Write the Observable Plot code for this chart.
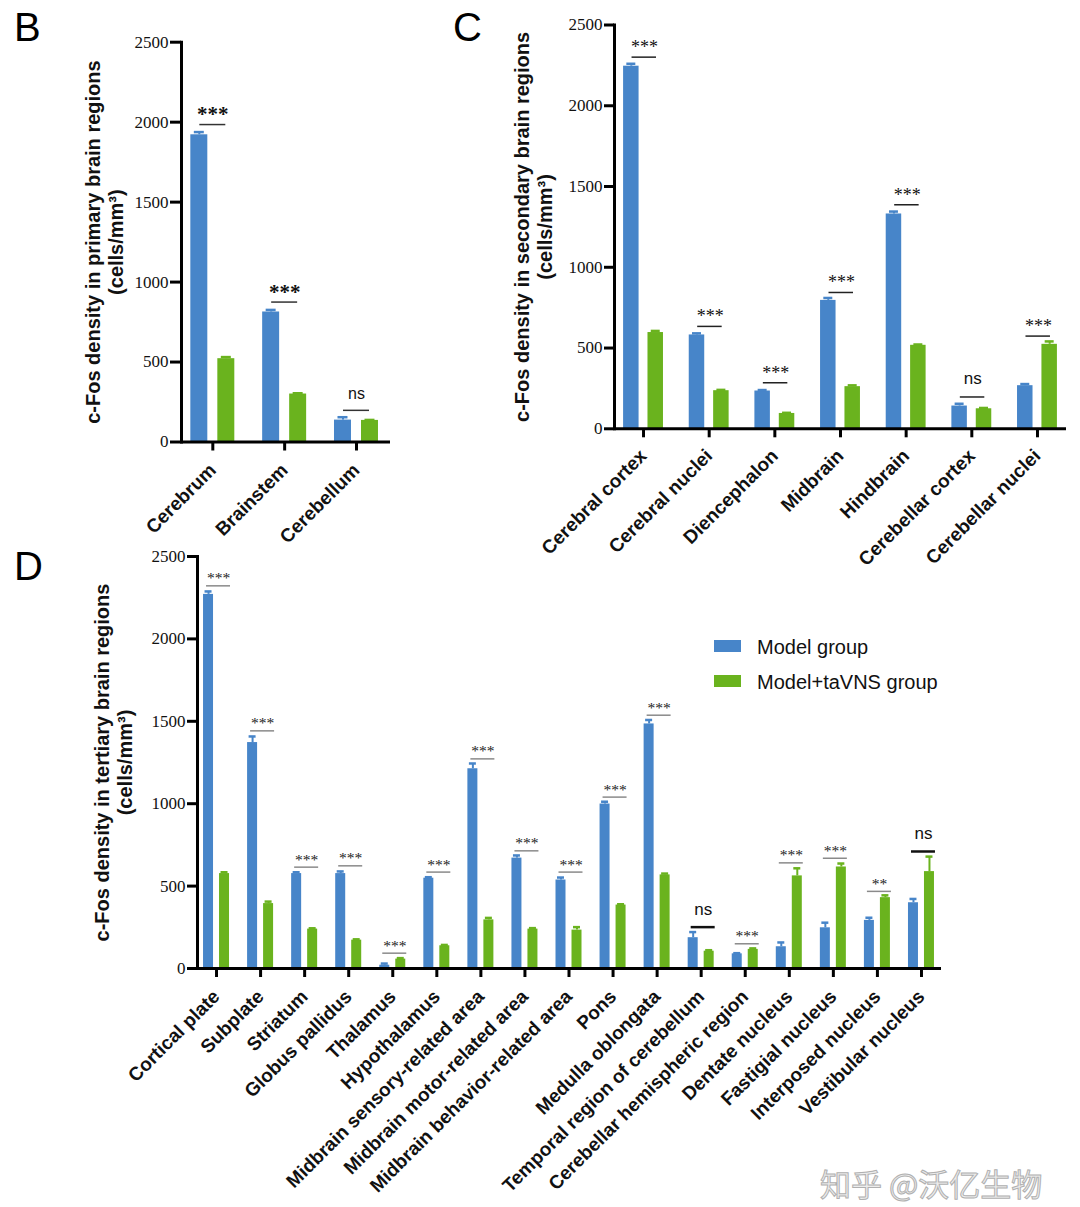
<!DOCTYPE html>
<html><head><meta charset="utf-8">
<script src="https://cdn.jsdelivr.net/npm/d3@7"></script>
<script src="https://cdn.jsdelivr.net/npm/@observablehq/plot@0.6"></script>
<style>
body{margin:0;background:#fff;}
#fig{position:relative;width:1080px;height:1207px;overflow:hidden;background:#fff;font-family:"Liberation Sans",Arial,sans-serif;}
.panel{position:absolute;}
.letter{position:absolute;font-size:40px;line-height:1;color:#000;}
.leg{position:absolute;font-size:20px;line-height:1;color:#111;white-space:nowrap;}
.sw{position:absolute;width:27px;height:12px;}
#wm{position:absolute;left:820px;top:1164px;width:255px;white-space:nowrap;font-family:"Noto Sans CJK SC",sans-serif;font-size:31px;line-height:1.2;color:#ececec;-webkit-text-stroke:1px #b0b0b0;}
.serif, .serif text { font-family: "Liberation Serif", "DejaVu Serif", "Times New Roman", serif !important; }
</style></head><body>
<div id="fig">
  <div class="letter" style="left:14px;top:7px;">B</div>
  <div class="letter" style="left:453px;top:7px;">C</div>
  <div class="letter" style="left:14px;top:546px;">D</div>
  <div id="pB" class="panel" style="left:0;top:0"></div>
  <div id="pC" class="panel" style="left:440px;top:0"></div>
  <div id="pD" class="panel" style="left:0;top:540px"></div>
  <div class="sw" style="left:714px;top:640px;background:#4785c9"></div>
  <div class="leg" style="left:757px;top:637px;">Model group</div>
  <div class="sw" style="left:714px;top:675px;background:#6ab31e"></div>
  <div class="leg" style="left:757px;top:672px;">Model+taVNS group</div>
  <div id="wm">知乎 @沃亿生物</div>
</div>
<script>
// ---------- Data ----------
const yTicks = [0, 500, 1000, 1500, 2000, 2500];
const groups = ["Model group", "Model+taVNS group"];

// Panel B: primary brain regions
const B_categories = ["Cerebrum", "Brainstem", "Cerebellum"];
const B_model = [1921, 813, 137];
const B_modelErr = [17, 13, 18];
const B_tavns = [521, 300, 135];
const B_tavnsErr = [10, 5, 3];
const B_sig = ["***", "***", "ns"];
const B_sigLine = [1985, 875, 198];
const B_title = "c-Fos density in primary brain regions\n(cells/mm³)";

// Panel C: secondary brain regions
const C_categories = ["Cerebral cortex", "Cerebral nuclei", "Diencephalon", "Midbrain", "Hindbrain", "Cerebellar cortex", "Cerebellar nuclei"];
const C_model = [2245, 581, 234, 795, 1330, 141, 267];
const C_modelErr = [15, 10, 6, 15, 15, 14, 10];
const C_tavns = [596, 236, 95, 261, 517, 124, 523];
const C_tavnsErr = [10, 5, 4, 8, 5, 5, 18];
const C_sig = ["***", "***", "***", "***", "***", "ns", "***"];
const C_sigLine = [2301, 634, 285, 844, 1387, 197, 574];
const C_title = "c-Fos density in secondary brain regions\n(cells/mm³)";

// Panel D: tertiary brain regions
const D_categories = ["Cortical plate", "Subplate", "Striatum", "Globus pallidus", "Thalamus", "Hypothalamus",
  "Midbrain sensory-related area", "Midbrain motor-related area", "Midbrain behavior-related area", "Pons",
  "Medulla oblongata", "Temporal region of cerebellum", "Cerebellar hemispheric region", "Dentate nucleus",
  "Fastigial nucleus", "Interposed nucleus", "Vestibular nucleus"];
const D_model = [2270, 1371, 576, 576, 20, 548, 1212, 670, 537, 998, 1484, 187, 89, 132, 247, 292, 399];
const D_modelErr = [18, 37, 8, 13, 10, 6, 32, 16, 15, 14, 24, 34, 4, 26, 31, 16, 23];
const D_tavns = [576, 394, 239, 172, 57, 138, 295, 239, 233, 385, 568, 105, 116, 562, 616, 430, 588];
const D_tavnsErr = [8, 12, 5, 5, 6, 5, 12, 6, 18, 5, 8, 6, 6, 46, 21, 14, 91];
const D_sig = ["***", "***", "***", "***", "***", "***", "***", "***", "***", "***", "***", "ns", "***", "***", "***", "**", "ns"];
const D_sigLine = [2322, 1442, 615, 623, 93, 585, 1272, 714, 585, 1040, 1537, 251, 150, 641, 669, 468, 710];
const D_title = "c-Fos density in tertiary brain regions\n(cells/mm³)";

// ---------- Styling ----------
const BLUE = "#4785c9", GREEN = "#6ab31e";
const SANS = "Liberation Sans, Arial, sans-serif";
const SERIF = "Liberation Serif, DejaVu Serif, serif";

function panel(el, cats, model, modelErr, tavns, tavnsErr, sig, sigLine, title, s) {
  const rows = cats.map((c, i) => ({c, m: model[i], me: modelErr[i], t: tavns[i], te: tavnsErr[i], s: sig[i], sl: sigLine[i]}));
  const half = s.step / 2;
  const inL = (o, w) => half + o - w / 2;
  const inR = (o, w) => half - o - w / 2;
  const stars = rows.filter(d => d.s !== "ns");
  const ns = rows.filter(d => d.s === "ns");
  const chart = Plot.plot({
    width: s.width, height: s.height,
    marginLeft: s.ml, marginRight: s.mr, marginTop: s.mt, marginBottom: s.mb,
    style: {background: "transparent", overflow: "visible"},
    x: {domain: cats, range: s.xRange, padding: 0, round: false, axis: null},
    y: {domain: [0, 2500], axis: null},
    marks: [
      Plot.barY(rows, {x: "c", y: "m", fill: BLUE, insetLeft: inL(-s.off, s.bw), insetRight: inR(-s.off, s.bw)}),
      Plot.barY(rows, {x: "c", y: "t", fill: GREEN, insetLeft: inL(s.off, s.bw), insetRight: inR(s.off, s.bw)}),
      Plot.ruleX(rows, {x: "c", y1: "m", y2: d => d.m + d.me, dx: -s.off, stroke: BLUE, strokeWidth: 2}),
      Plot.tickY(rows, {x: "c", y: d => d.m + d.me, insetLeft: inL(-s.off, s.cap), insetRight: inR(-s.off, s.cap), stroke: BLUE, strokeWidth: 2.5}),
      Plot.ruleX(rows, {x: "c", y1: "t", y2: d => d.t + d.te, dx: s.off, stroke: GREEN, strokeWidth: 2}),
      Plot.tickY(rows, {x: "c", y: d => d.t + d.te, insetLeft: inL(s.off, s.cap), insetRight: inR(s.off, s.cap), stroke: GREEN, strokeWidth: 2.5}),
      Plot.tickY(stars, {x: "c", y: "sl", insetLeft: half + s.sigA, insetRight: half - s.sigB, stroke: s.lineColor, strokeWidth: s.lineW}),
      Plot.tickY(ns, {x: "c", y: "sl", insetLeft: half + s.sigA, insetRight: half - s.sigB, stroke: s.nsLineColor, strokeWidth: s.nsLineW}),
      Plot.text(stars, {x: "c", y: "sl", text: "s", dx: s.textDx, dy: s.starDy, fontFamily: SERIF, fontSize: s.starSize, fontWeight: s.starWeight, fill: s.starColor, className: "serif"}),
      Plot.text(ns, {x: "c", y: "sl", text: "s", dx: s.textDx, dy: s.nsDy, fontFamily: SANS, fontSize: s.nsSize, fill: "#111"}),
      Plot.ruleY([0], {stroke: "#000", strokeWidth: 3}),
      Plot.frame({anchor: "left", stroke: "#000", strokeWidth: 3}),
      Plot.axisY({ticks: yTicks, tickFormat: d => String(d), tickSize: s.yTickSize, tickPadding: 2, strokeWidth: 3, fontFamily: SERIF, fontSize: 17, label: null, fill: "#111"}),
      Plot.axisX({tickRotate: -45, tickSize: 9, tickPadding: s.xPad, strokeWidth: 3, fontFamily: SANS, fontWeight: "bold", fontSize: s.xFont, label: null, fill: "#111"}),
      Plot.text([title], {frameAnchor: "left", textAnchor: "middle", rotate: -90, dx: s.titleDx, fontFamily: SANS, fontWeight: "bold", fontSize: 20, lineHeight: 1.15, fill: "#111"})
    ]
  });
  // serif face for the y tick labels, as in the reference
  d3.select(chart).selectAll('g[aria-label="y-axis tick label"]').classed("serif", true)
    .attr("font-family", SERIF).selectAll("text").attr("font-family", SERIF);
  document.getElementById(el).appendChild(chart);
}

panel("pB", B_categories, B_model, B_modelErr, B_tavns, B_tavnsErr, B_sig, B_sigLine, B_title, {
  width: 440, height: 550, ml: 181, mr: 50, mt: 41.7, mb: 108.5,
  xRange: [176.4, 391.9], step: 71.85, off: 13.5, bw: 17, cap: 10, sigA: -13, sigB: 13,
  lineColor: "#333", lineW: 1.5, nsLineColor: "#333", nsLineW: 1.5,
  starSize: 21, starWeight: "bold", starColor: "#111", starDy: -10, nsSize: 16, nsDy: -16, textDx: 0,
  yTickSize: 11, xPad: 16, xFont: 19, titleDx: -77
});
panel("pC", C_categories, C_model, C_modelErr, C_tavns, C_tavnsErr, C_sig, C_sigLine, C_title, {
  width: 640, height: 570, ml: 174, mr: 14, mt: 24.5, mb: 141.7,
  xRange: [170.2, 629.8], step: 65.67, off: 12.2, bw: 15.5, cap: 9, sigA: -11.5, sigB: 13,
  lineColor: "#222", lineW: 1.5, nsLineColor: "#222", nsLineW: 1.5,
  starSize: 18, starWeight: "normal", starColor: "#111", starDy: -10, nsSize: 17, nsDy: -18, textDx: 1,
  yTickSize: 10, xPad: 15, xFont: 19, titleDx: -81.5
});
panel("pD", D_categories, D_model, D_modelErr, D_tavns, D_tavnsErr, D_sig, D_sigLine, D_title, {
  width: 1080, height: 667, ml: 197, mr: 139, mt: 16, mb: 239,
  xRange: [194, 943], step: 44.06, off: 8, bw: 10, cap: 7, sigA: -10, sigB: 14,
  lineColor: "#8a8a8a", lineW: 1.5, nsLineColor: "#111", nsLineW: 2.5,
  starSize: 15.5, starWeight: "normal", starColor: "#222", starDy: -7.5, nsSize: 17, nsDy: -18, textDx: 2,
  yTickSize: 10, xPad: 16, xFont: 19, titleDx: -84
});
</script>
</body></html>
